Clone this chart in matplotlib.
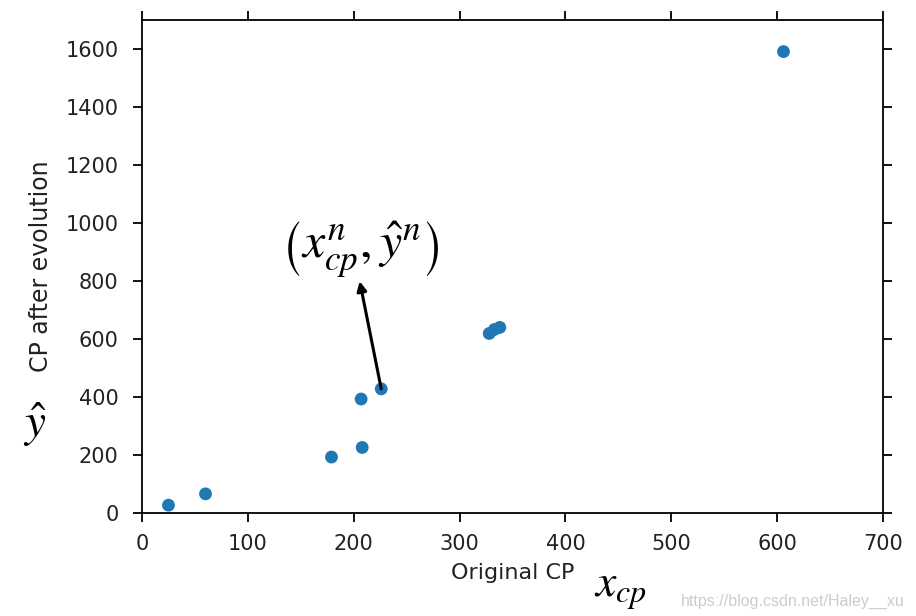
import matplotlib
matplotlib.use("Agg")
import matplotlib.pyplot as plt

# Data
x_cp = [338, 333, 328, 207, 226, 25, 179, 60, 208, 606]
y_hat = [640, 633, 619, 393, 428, 27, 193, 66, 226, 1591]
x_ticks = [0, 100, 200, 300, 400, 500, 600, 700]
y_ticks = [0, 200, 400, 600, 800, 1000, 1200, 1400, 1600]
x_label = "Original CP"
y_label = "CP after evolution"
highlight_index = 4
annot_text = r'$\left(x_{cp}^{n},\hat{y}^{n}\right)$'
watermark = "https://blog.csdn.net/Haley__xu"

plt.rcParams['mathtext.fontset'] = 'stix'

W, H = 916, 616
fig = plt.figure(figsize=(W/100, H/100), dpi=100)
ax = fig.add_axes([142/W, 1-513/H, (883-142)/W, (513-20)/H])

ax.scatter(x_cp, y_hat, s=85, color='#1f77b4', edgecolors='none', zorder=3)

ax.set_xlim(0, 700)
ax.set_ylim(0, 1700)
ax.set_xticks(x_ticks)
ax.set_yticks(y_ticks)
ax.tick_params(axis='both', which='major', direction='out', length=6.8, width=1.3,
               labelsize=15, pad=10, colors='black', labelcolor='#222222',
               top=True, right=True, labeltop=False, labelright=False)
ax.tick_params(axis='x', pad=8)
for sp in ax.spines.values():
    sp.set_linewidth(1.3)
    sp.set_color('black')

ax.set_xlabel(x_label, fontsize=16, color='#222222', labelpad=7)
ax.set_ylabel(y_label, fontsize=17, color='#222222', labelpad=9)

px, py = x_cp[highlight_index], y_hat[highlight_index]
ax.annotate('', xy=(px, py), xytext=(-15.5, 77.5), textcoords='offset points',
            arrowprops=dict(arrowstyle='<|-', color='black', lw=2.2,
                            shrinkA=0, shrinkB=0, mutation_scale=14))
ax.annotate(annot_text, xy=(px, py), xytext=(-15, 100), textcoords='offset points',
            ha='center', va='center', fontsize=36, color='black')

fig.text(35/W, 1-425/H, r'$\hat{y}$', fontsize=34, ha='center', va='center')
fig.text(621/W, 1-590/H, r'$x_{cp}$', fontsize=33, ha='center', va='center')
fig.text(905/W, 1-601/H, watermark, fontsize=11.5, color='#cccccc',
         family='Liberation Sans', ha='right', va='center')

fig.savefig('out.png', dpi=100)
